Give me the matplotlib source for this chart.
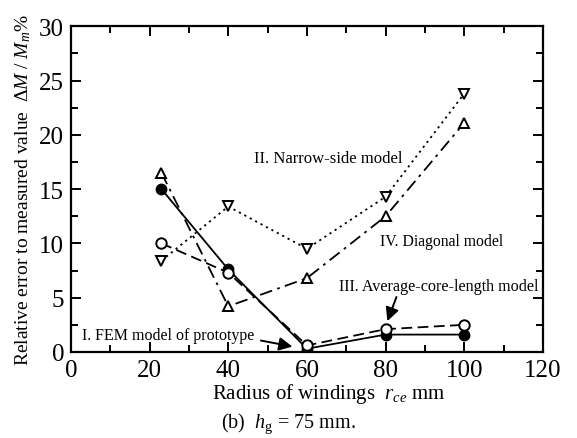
import numpy as np
import matplotlib
matplotlib.use("Agg")
import matplotlib.pyplot as plt
from matplotlib.ticker import MultipleLocator

plt.rcParams['font.family'] = ['Liberation Serif', 'DejaVu Serif']
plt.rcParams['mathtext.fontset'] = 'custom'
plt.rcParams['mathtext.rm'] = 'Liberation Serif'
plt.rcParams['mathtext.it'] = 'Liberation Serif:italic'

# Data
radius = [23, 40, 60, 80, 100]
fem_prototype = [15.0, 7.6, 0.3, 1.6, 1.6]        # I.  filled circles
narrow_side = [8.4, 13.4, 9.5, 14.3, 23.8]        # II. down triangles
average_core = [10.0, 7.3, 0.6, 2.1, 2.5]         # III. open circles
diagonal = [16.5, 4.2, 6.8, 12.5, 21.1]           # IV. up triangles

fig = plt.figure(figsize=(5.77, 4.39), dpi=100)
ax = fig.add_axes([0.123, 0.196, 0.818, 0.742])

ax.plot(radius, narrow_side, color='k', lw=1.3, ls=(0, (1.2, 2.2)),
        marker='v', ms=6.5, mfc='white', mec='k', mew=1.4, zorder=3)
ax.plot(radius, diagonal, color='k', lw=1.3, ls=(0, (7, 3, 1.5, 3)),
        marker='^', ms=6.5, mfc='white', mec='k', mew=1.4, zorder=3)
ax.plot(radius, average_core, color='k', lw=1.3, ls=(0, (6, 3)),
        marker='o', ms=7.5, mfc='white', mec='k', mew=1.4, zorder=4)
ax.plot(radius, fem_prototype, color='k', lw=1.3, ls='-',
        marker='o', ms=7.5, mfc='k', mec='k', zorder=3)

ax.set_xlim(0, 120)
ax.set_ylim(0, 30)
ax.xaxis.set_major_locator(MultipleLocator(20))
ax.xaxis.set_minor_locator(MultipleLocator(10))
ax.yaxis.set_major_locator(MultipleLocator(5))
ax.yaxis.set_minor_locator(MultipleLocator(2.5))
ax.tick_params(which='both', direction='in', top=True, right=True,
               width=1.4, labelsize=18, pad=5)
ax.tick_params(which='major', length=7)
ax.tick_params(which='minor', length=5)
for s in ax.spines.values():
    s.set_linewidth(1.6)

ax.set_xlabel(r'Radius of windings  $r_{ce}$ mm', fontsize=15, va='center')
ax.xaxis.set_label_coords(0.547, -0.125)
ax.set_ylabel(r'Relative error to measured value  $\Delta M\ /\ M_m$%',
              fontsize=14, labelpad=4)

ax.text(46.5, 17.9, 'II. Narrow-side model', fontsize=12, va='center')
ax.text(78.6, 10.2, 'IV. Diagonal model', fontsize=11.3, va='center')
ax.text(68.1, 6.1, 'III. Average-core-length model', fontsize=11.6, va='center')
ax.text(2.8, 1.55, 'I. FEM model of prototype', fontsize=11.5, va='center')

ax.annotate('', xy=(80.2, 2.6), xytext=(83.0, 5.3),
            arrowprops=dict(arrowstyle='-|>', color='k', lw=1.4,
                            mutation_scale=20))
ax.annotate('', xy=(57.0, 0.45), xytext=(47.6, 1.1),
            arrowprops=dict(arrowstyle='-|>', color='k', lw=1.4,
                            mutation_scale=20))

fig.text(0.50, 0.034, r'(b)  $h_\mathrm{g}$ = 75 mm.', fontsize=14.5,
         ha='center', va='center')

fig.savefig('out.png', dpi=100)
